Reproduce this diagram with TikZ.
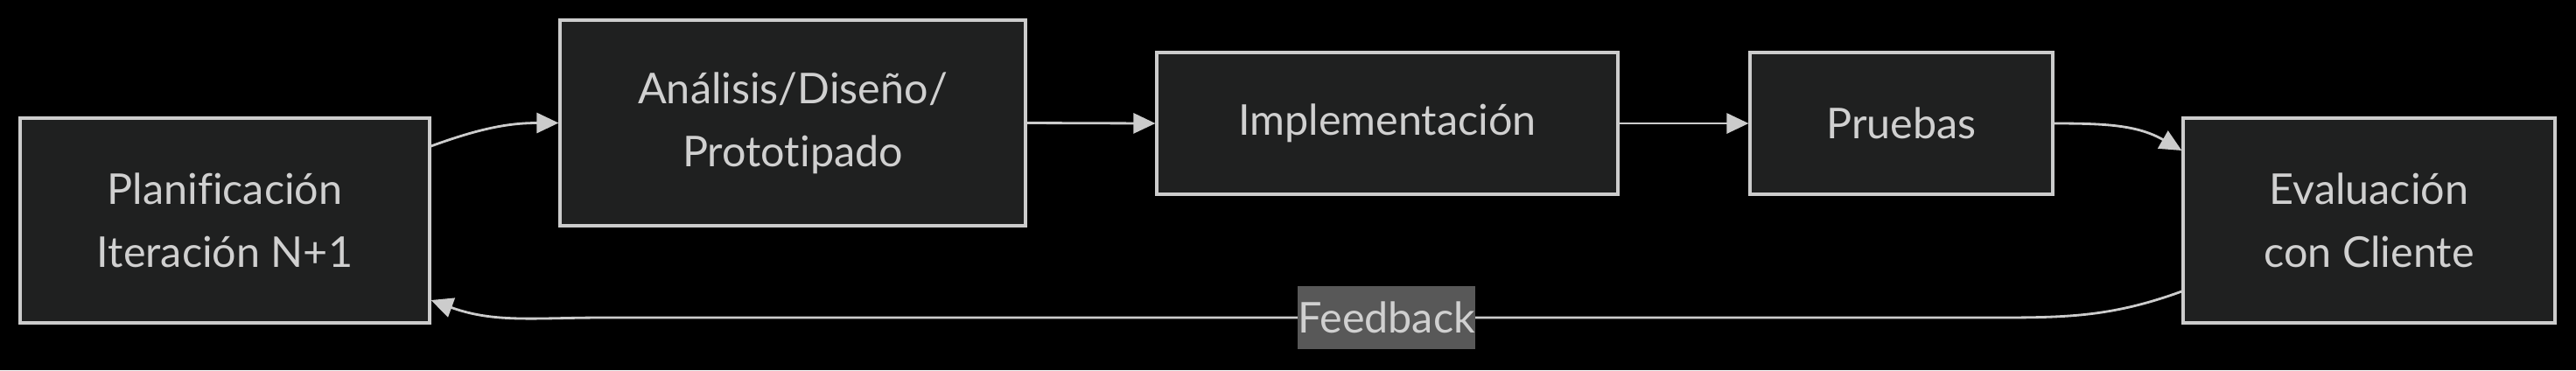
\documentclass[tikz,border=0pt]{standalone}
\usepackage{fontspec}
\setmainfont{Lato}[Ligatures={NoCommon}]
\usetikzlibrary{arrows.meta}
\definecolor{bgc}{HTML}{000000}
\definecolor{boxc}{HTML}{1F2020}
\definecolor{linec}{HTML}{CCCCCC}
\definecolor{txtc}{HTML}{D0D0D0}
\definecolor{lblc}{HTML}{585858}
\begin{document}
\begin{tikzpicture}[
  stagebox/.style={rectangle,draw=linec,line width=0.9pt,fill=boxc,text=txtc,
    align=center,inner sep=0pt,font=\fontsize{13.8}{20.5}\selectfont},
  flow/.style={draw=linec,line width=0.8pt,-{Triangle[length=0.25cm,width=0.23cm]}},
  fblabel/.style={fill=lblc,text=txtc,inner xsep=0pt,inner ysep=0pt,
    minimum height=0.72cm,font=\fontsize{13.8}{16}\selectfont}
]
  \fill[bgc] (0,0) rectangle (29.44,-4.23);
  \useasboundingbox (0,0) rectangle (29.44,-4.23);
  % stages of the iteration
  \node[stagebox,minimum width=4.68cm,minimum height=2.34cm] (plan) at (2.57,-2.52) {Planificación\\Iteración N+1};
  \node[stagebox,minimum width=5.32cm,minimum height=2.35cm] (anal) at (9.06,-1.405) {Análisis/Diseño/\\Prototipado};
  \node[stagebox,minimum width=5.27cm,minimum height=1.62cm] (impl) at (15.855,-1.41) {Implementación};
  \node[stagebox,minimum width=3.46cm,minimum height=1.62cm] (prue) at (21.73,-1.41) {Pruebas};
  \node[stagebox,minimum width=4.25cm,minimum height=2.34cm] (eval) at (27.075,-2.52) {Evaluación\\con Cliente};
  % bends of the feedback line
  \coordinate (fbR) at (22.71,-3.63);
  \coordinate (fbL) at (6.89,-3.63);
  % connectors
  \draw[flow] ([yshift=0.85cm]plan.east) to[out=20,in=180] (anal.west);
  \draw[flow] (anal.east) -- (impl.west);
  \draw[flow] (impl.east) -- (prue.west);
  \draw[flow] (prue.east) to[out=0,in=150] ([yshift=0.8cm]eval.west);
  \draw[flow] ([yshift=-0.81cm]eval.west) to[out=200,in=0] (fbR)
    -- node[fblabel,pos=0.434] (fb) {Feedback} (fbL)
    to[out=180,in=-20] ([yshift=-0.91cm]plan.east);
\end{tikzpicture}
\end{document}
